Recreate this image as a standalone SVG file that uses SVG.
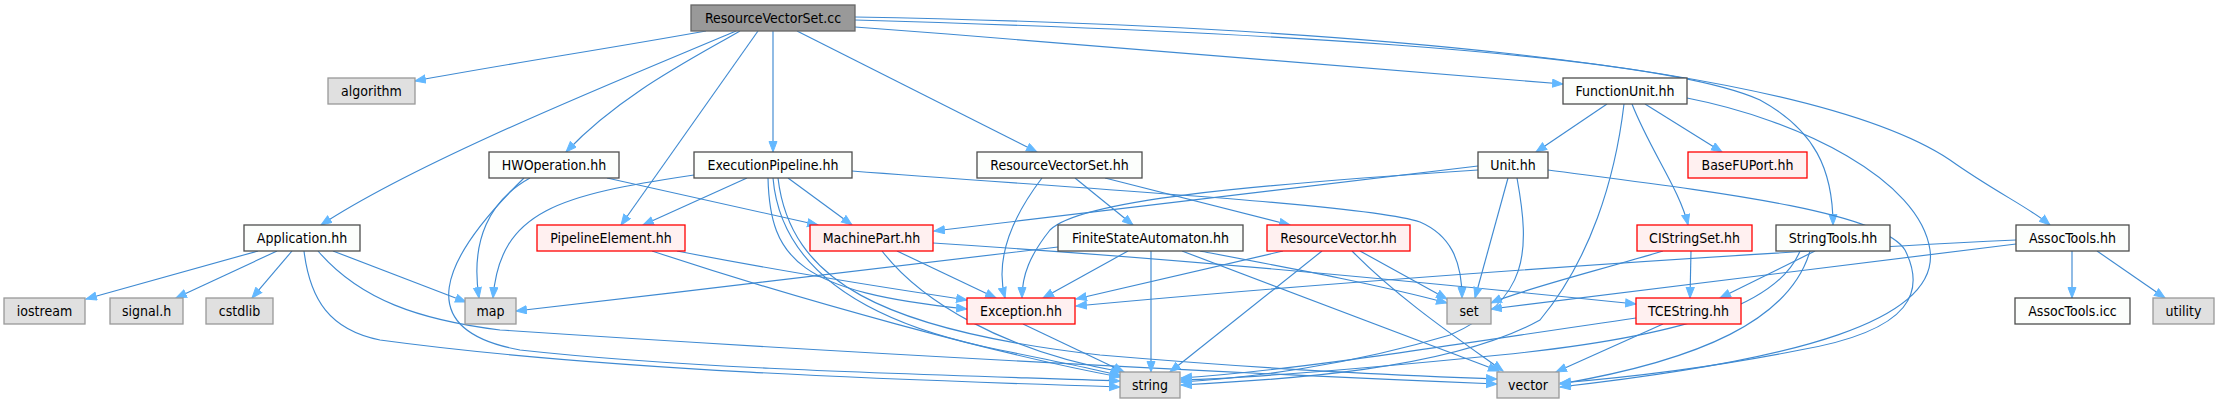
<svg xmlns="http://www.w3.org/2000/svg" width="2221" height="403" viewBox="0 0 2221 403">
<defs>
<marker id="ah" markerWidth="12" markerHeight="10" refX="11" refY="4.5" orient="auto" markerUnits="userSpaceOnUse">
<path d="M0.5,0.5 L11,4.5 L0.5,8.5 z" fill="#63b8ff" stroke="#63b8ff" stroke-width="1"/>
</marker>
</defs>
<style>
rect{stroke-width:1.3}
.root rect{fill:#999999;stroke:#666666}
.w rect{fill:#fcfefc;stroke:#4d4d4d}
.r rect{fill:#fff0f0;stroke:#ff0000}
.g rect{fill:#e0e0e0;stroke:#999999}
text{font-family:"DejaVu Sans Condensed","DejaVu Sans","Liberation Sans",sans-serif;font-size:14px;fill:#000;text-anchor:middle}
#edges path{fill:none;stroke:#3f8ad2;stroke-width:1.15;marker-end:url(#ah)}
</style>
<rect width="2221" height="403" fill="#ffffff"/>
<g id="edges">
<path d="M706,31 C600,50 500,65 415,81"/>
<path d="M736,31 C620,80 420,160 321,225"/>
<path d="M740,31 C690,60 620,95 566,152"/>
<path d="M758,31 L621,225"/>
<path d="M773,31 L773,152"/>
<path d="M797,31 L1037,152"/>
<path d="M855,27 C1100,45 1350,68 1563,84"/>
<path d="M855,20 C1200,30 1650,50 1760,100 C1815,130 1833,170 1833,225"/>
<path d="M855,17 C1300,25 1800,60 1950,160 C1995,192 2030,208 2050,225"/>
<path d="M607,178 L818,225"/>
<path d="M530,178 C490,200 470,240 479,298"/>
<path d="M524,178 C440,260 410,330 520,350 C700,370 950,375 1120,381"/>
<path d="M747,178 L643,225"/>
<path d="M788,178 L852,225"/>
<path d="M694,175 C560,195 500,210 493,298"/>
<path d="M852,171 C1100,190 1370,205 1420,222 C1450,235 1462,260 1462,298"/>
<path d="M768,178 C770,260 800,292 967,309"/>
<path d="M773,178 C780,260 850,320 1000,350 C1060,362 1100,370 1121,376"/>
<path d="M778,178 C790,280 880,330 1100,355 C1300,372 1420,376 1497,379"/>
<path d="M258,251 L86,299"/>
<path d="M277,251 L176,298"/>
<path d="M292,251 L252,298"/>
<path d="M333,251 L466,302"/>
<path d="M304,251 C310,300 330,330 380,340 C600,370 900,380 1120,387"/>
<path d="M318,251 C360,300 420,320 500,330 C800,350 1200,372 1497,384"/>
<path d="M677,251 C800,275 900,290 967,300"/>
<path d="M652,251 C800,300 1000,355 1120,377"/>
<path d="M897,251 L996,298"/>
<path d="M882,251 C920,300 1000,350 1122,372"/>
<path d="M933,243 C1200,260 1450,285 1636,304"/>
<path d="M1058,247 C900,265 700,290 516,311"/>
<path d="M1128,251 L1043,298"/>
<path d="M1151,251 L1151,372"/>
<path d="M1182,251 L1499,371"/>
<path d="M1200,251 C1300,270 1380,285 1447,303"/>
<path d="M1478,166 L934,231"/>
<path d="M1478,170 C1250,185 1080,200 1050,230 C1030,255 1022,275 1022,298"/>
<path d="M1508,178 L1475,298"/>
<path d="M1517,178 C1530,250 1530,300 1450,335 C1350,365 1250,378 1181,382"/>
<path d="M1548,170 C1700,190 1880,210 1905,250 C1925,290 1915,330 1800,350 C1700,370 1620,378 1560,383"/>
<path d="M1607,104 L1536,152"/>
<path d="M1645,104 L1722,152"/>
<path d="M1632,104 C1650,150 1680,190 1688,225"/>
<path d="M1624,104 C1615,180 1590,260 1540,320 C1450,370 1280,380 1181,385"/>
<path d="M1687,98 C1800,120 1920,180 1930,250 C1940,320 1800,360 1560,387"/>
<path d="M1815,251 L1720,298"/>
<path d="M1800,251 C1780,300 1700,335 1500,355 C1350,370 1250,378 1181,380"/>
<path d="M1810,251 C1790,320 1700,360 1560,384"/>
<path d="M1663,251 C1600,270 1520,290 1491,303"/>
<path d="M1691,251 L1690,298"/>
<path d="M1636,318 C1450,345 1300,370 1181,378"/>
<path d="M1663,324 L1556,372"/>
<path d="M2072,251 L2072,298"/>
<path d="M2097,251 L2165,298"/>
<path d="M2016,244 C1800,270 1600,295 1491,309"/>
<path d="M2016,240 C1700,255 1300,285 1076,306"/>
<path d="M1283,251 L1076,299"/>
<path d="M1322,251 L1170,372"/>
<path d="M1360,251 L1447,299"/>
<path d="M1352,251 C1400,300 1460,340 1503,371"/>
<path d="M1075,178 L1133,225"/>
<path d="M1105,178 L1290,225"/>
<path d="M1042,178 C1010,220 995,260 1005,298"/>
<path d="M1023,324 L1124,372"/>
</g>
<g id="n-root" class="root"><rect x="691" y="5" width="164" height="26"/><text x="773" y="23">ResourceVectorSet.cc</text></g>
<g id="n-algorithm" class="g"><rect x="328" y="78" width="87" height="26"/><text x="371.5" y="96">algorithm</text></g>
<g id="n-hwoperation" class="w"><rect x="489" y="152" width="130" height="26"/><text x="554" y="170">HWOperation.hh</text></g>
<g id="n-executionpipeline" class="w"><rect x="694" y="152" width="158" height="26"/><text x="773" y="170">ExecutionPipeline.hh</text></g>
<g id="n-resourcevectorset" class="w"><rect x="977" y="152" width="165" height="26"/><text x="1059.5" y="170">ResourceVectorSet.hh</text></g>
<g id="n-functionunit" class="w"><rect x="1563" y="78" width="124" height="26"/><text x="1625" y="96">FunctionUnit.hh</text></g>
<g id="n-unit" class="w"><rect x="1478" y="152" width="70" height="26"/><text x="1513" y="170">Unit.hh</text></g>
<g id="n-basefuport" class="r"><rect x="1688" y="152" width="119" height="26"/><text x="1747.5" y="170">BaseFUPort.hh</text></g>
<g id="n-application" class="w"><rect x="244" y="225" width="116" height="26"/><text x="302" y="243">Application.hh</text></g>
<g id="n-pipelineelement" class="r"><rect x="537" y="225" width="148" height="26"/><text x="611" y="243">PipelineElement.hh</text></g>
<g id="n-machinepart" class="r"><rect x="810" y="225" width="123" height="26"/><text x="871.5" y="243">MachinePart.hh</text></g>
<g id="n-fsa" class="w"><rect x="1058" y="225" width="185" height="26"/><text x="1150.5" y="243">FiniteStateAutomaton.hh</text></g>
<g id="n-resourcevector" class="r"><rect x="1267" y="225" width="143" height="26"/><text x="1338.5" y="243">ResourceVector.hh</text></g>
<g id="n-cistringset" class="r"><rect x="1637" y="225" width="115" height="26"/><text x="1694.5" y="243">CIStringSet.hh</text></g>
<g id="n-stringtools" class="w"><rect x="1776" y="225" width="114" height="26"/><text x="1833" y="243">StringTools.hh</text></g>
<g id="n-assoctools" class="w"><rect x="2016" y="225" width="113" height="26"/><text x="2072.5" y="243">AssocTools.hh</text></g>
<g id="n-iostream" class="g"><rect x="4" y="298" width="81" height="26"/><text x="44.5" y="316">iostream</text></g>
<g id="n-signal" class="g"><rect x="110" y="298" width="73" height="26"/><text x="146.5" y="316">signal.h</text></g>
<g id="n-cstdlib" class="g"><rect x="206" y="298" width="67" height="26"/><text x="239.5" y="316">cstdlib</text></g>
<g id="n-map" class="g"><rect x="465" y="298" width="51" height="26"/><text x="490.5" y="316">map</text></g>
<g id="n-exception" class="r"><rect x="967" y="298" width="108" height="26"/><text x="1021" y="316">Exception.hh</text></g>
<g id="n-set" class="g"><rect x="1447" y="298" width="44" height="26"/><text x="1469" y="316">set</text></g>
<g id="n-tcestring" class="r"><rect x="1636" y="298" width="105" height="26"/><text x="1688.5" y="316">TCEString.hh</text></g>
<g id="n-assoctoolsicc" class="w"><rect x="2015" y="298" width="115" height="26"/><text x="2072.5" y="316">AssocTools.icc</text></g>
<g id="n-utility" class="g"><rect x="2153" y="298" width="61" height="26"/><text x="2183.5" y="316">utility</text></g>
<g id="n-string" class="g"><rect x="1120" y="372" width="60" height="26"/><text x="1150" y="390">string</text></g>
<g id="n-vector" class="g"><rect x="1497" y="372" width="62" height="26"/><text x="1528" y="390">vector</text></g>
</svg>
